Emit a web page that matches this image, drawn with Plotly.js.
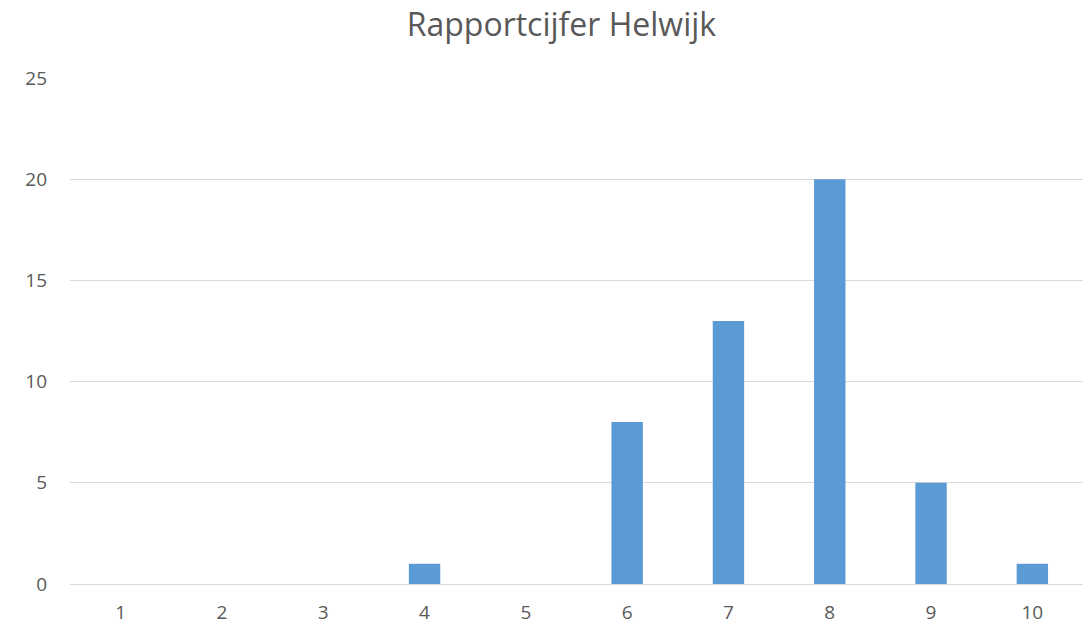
<!DOCTYPE html>
<html>
<head>
<meta charset="utf-8">
<script src="https://cdn.plot.ly/plotly-3.0.1.min.js"></script>
<style>html,body{margin:0;padding:0;background:#fff;}#chart{width:1088px;height:628px;}</style>
</head>
<body>
<div id="chart"></div>
<script>
const categories = ["1","2","3","4","5","6","7","8","9","10"];
const counts = [0,0,0,1,0,8,13,20,5,1];
const chartTitle = "Rapportcijfer Helwijk";

const trace = {
  type: "bar",
  x: categories,
  y: counts,
  marker: {color: "#5B9BD5"},
  hoverinfo: "x+y"
};

const layout = {
  width: 1088,
  height: 628,
  margin: {l: 70, r: 5, t: 78, b: 44},
  paper_bgcolor: "#ffffff",
  plot_bgcolor: "#ffffff",
  font: {family: "Open Sans, Lato, sans-serif", color: "#595959", size: 19},
  title: {text: chartTitle, x: 0.516, xanchor: "center", y: 0.96, yanchor: "middle",
          font: {size: 32, color: "#595959", family: "Open Sans, sans-serif"}},
  bargap: 0.69,
  showlegend: false,
  xaxis: {type: "category", showgrid: false, zeroline: false, showline: false,
          ticks: "", ticklabelstandoff: 15, tickfont: {size: 19, color: "#595959"}},
  yaxis: {range: [0, 25], dtick: 5, showgrid: true, gridcolor: "#d9d9d9", gridwidth: 1,
          zeroline: true, zerolinecolor: "#d9d9d9", zerolinewidth: 1, showline: false,
          ticks: "", ticklabelstandoff: 22, tickfont: {size: 19, color: "#595959"}}
};

Plotly.newPlot("chart", [trace], layout, {displayModeBar: false, staticPlot: true});
</script>
</body>
</html>
